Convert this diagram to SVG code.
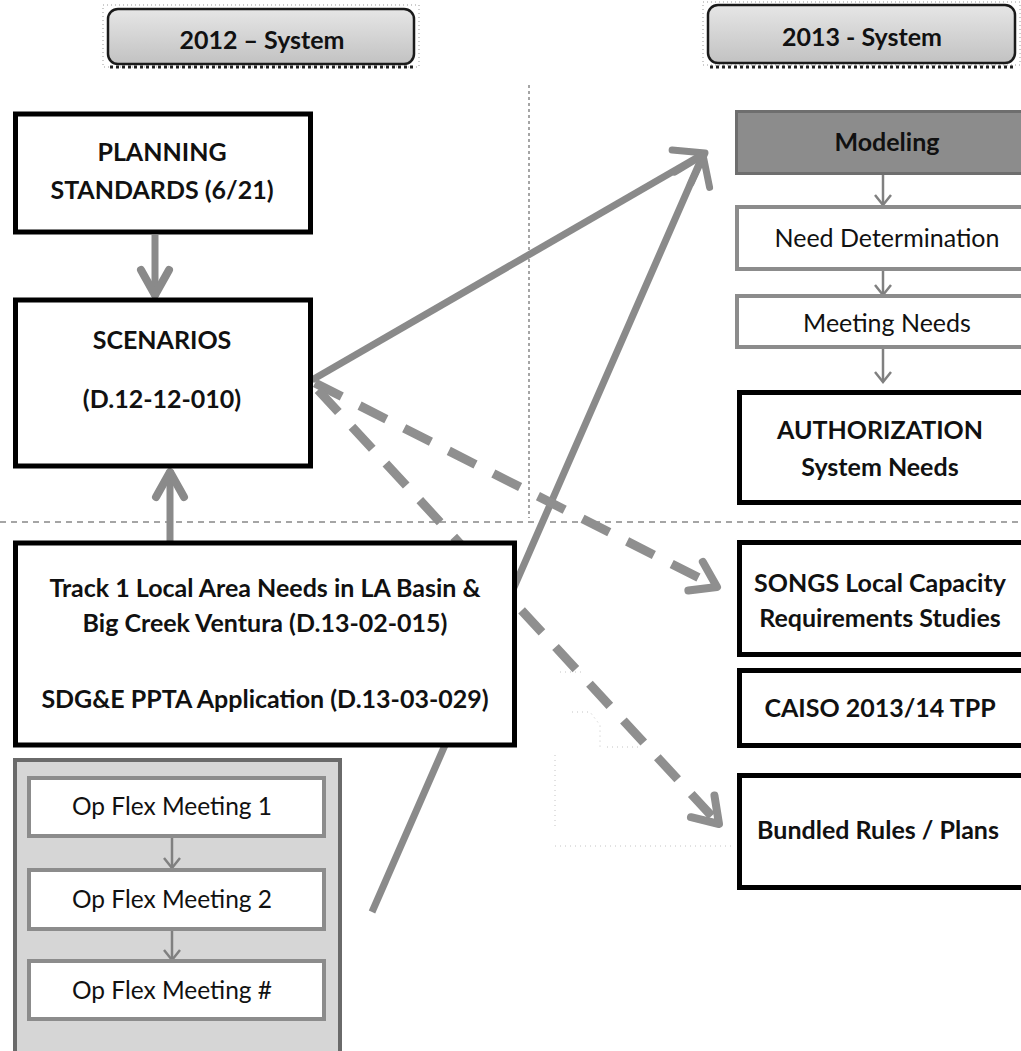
<svg xmlns="http://www.w3.org/2000/svg" width="1021" height="1051" viewBox="0 0 1021 1051">
<style>
text{font-family:Lato,"Open Sans","Liberation Sans",sans-serif;fill:#111;text-anchor:middle}
.b{font-weight:bold;font-size:25px}
.r{font-size:25px}
.o{font-size:24.5px}
.box{fill:#fff;stroke:#000;stroke-width:5}
.gbox{fill:#fff;stroke:#8c8c8c;stroke-width:4}
.hdr{fill:url(#hg);stroke:#1a1a1a;stroke-width:2.5}
.sol{stroke:#8a8a8a;stroke-width:7;fill:none}
.dash{stroke:#8f8f8f;stroke-width:9;fill:none;stroke-dasharray:30 20}
.thin{stroke:#808080;stroke-width:2.5;fill:none}
.sep{stroke:#888;stroke-width:1.5;fill:none}
.faint{stroke:#c4c4c4;stroke-width:1;fill:none;stroke-dasharray:1 4}
</style>
<defs>
<linearGradient id="hg" x1="0" y1="0" x2="0" y2="1">
<stop offset="0" stop-color="#e6e6e6"/>
<stop offset="1" stop-color="#c2c2c2"/>
</linearGradient>
<marker id="big" markerUnits="userSpaceOnUse" viewBox="-34 -26 40 52" markerWidth="40" markerHeight="52" refX="0" refY="0" orient="auto">
<path d="M-27,-19 L0,0 L-27,19" stroke="#8a8a8a" stroke-width="7" fill="none" stroke-linecap="round" stroke-linejoin="round"/>
</marker>
<marker id="mid" markerUnits="userSpaceOnUse" viewBox="-34 -26 40 52" markerWidth="40" markerHeight="52" refX="0" refY="0" orient="auto">
<path d="M-24,-16 L0,0 L-24,16" stroke="#8f8f8f" stroke-width="8" fill="none" stroke-linecap="round" stroke-linejoin="round"/>
</marker>
<marker id="vert" markerUnits="userSpaceOnUse" viewBox="-34 -22 40 44" markerWidth="40" markerHeight="44" refX="0" refY="0" orient="auto">
<path d="M-27,-14 L-2,0 L-27,14" stroke="#8a8a8a" stroke-width="8" fill="none" stroke-linecap="round" stroke-linejoin="round"/>
</marker>
<marker id="small" markerUnits="userSpaceOnUse" viewBox="-12 -12 14 24" markerWidth="14" markerHeight="24" refX="0" refY="0" orient="auto">
<path d="M-10,-8 L0,0 L-10,8" stroke="#808080" stroke-width="2.5" fill="none"/>
</marker>
</defs>

<g id="separators">
<line class="sep" x1="529" y1="85" x2="529" y2="518" stroke-dasharray="3 3"/>
<line class="sep" x1="0" y1="522" x2="1021" y2="522" stroke-dasharray="6 5"/>
</g>

<g id="faint-marks">
<path class="faint" d="M560,672 H582 M572,712 H590 L600,725 V747 M607,747 H640"/>
<path class="faint" d="M555,755 V830 M555,846 H735"/>
</g>

<g id="connectors">
<line class="sol" x1="312" y1="380" x2="705" y2="153" marker-end="url(#big)"/>
<line class="sol" x1="372" y1="912" x2="703" y2="155" marker-end="url(#big)"/>
<line class="dash" x1="315" y1="383" x2="717" y2="587" marker-end="url(#mid)"/>
<line class="dash" x1="318" y1="390" x2="719" y2="824" marker-end="url(#mid)"/>
<line class="sol" stroke-width="9" x1="155" y1="235" x2="155" y2="297" marker-end="url(#vert)"/>
<line class="sol" stroke-width="9" x1="170" y1="541" x2="170" y2="470" marker-end="url(#vert)"/>
<line class="thin" x1="883" y1="175" x2="883" y2="205" marker-end="url(#small)"/>
<line class="thin" x1="883" y1="270" x2="883" y2="295" marker-end="url(#small)"/>
<line class="thin" x1="883" y1="348" x2="883" y2="382" marker-end="url(#small)"/>
</g>

<g id="hdr2012">
<rect x="103" y="5" width="316" height="62" fill="none" stroke="#999" stroke-width="1" stroke-dasharray="1 3"/>
<line x1="110" y1="67" x2="414" y2="67" stroke="#222" stroke-width="3" stroke-dasharray="3 3"/>
<rect class="hdr" x="108" y="9" width="306" height="55" rx="10"/>
<text class="b" x="262" y="49">2012 – System</text>
</g>
<g id="hdr2013">
<rect x="703" y="2" width="317" height="63" fill="none" stroke="#999" stroke-width="1" stroke-dasharray="1 3"/>
<line x1="710" y1="67" x2="1014" y2="67" stroke="#222" stroke-width="3" stroke-dasharray="3 3"/>
<rect class="hdr" x="708" y="5" width="307" height="58" rx="10"/>
<text class="b" x="862" y="46">2013 - System</text>
</g>

<g id="planning">
<rect class="box" x="15.5" y="114" width="295" height="118"/>
<text class="b" x="162" y="161">PLANNING</text>
<text class="b" x="162" y="199">STANDARDS (6/21)</text>
</g>
<g id="scenarios">
<rect class="box" x="15.5" y="300" width="295" height="166"/>
<text class="b" x="162" y="349">SCENARIOS</text>
<text class="b" x="162" y="408">(D.12-12-010)</text>
</g>
<g id="track1">
<rect class="box" x="15.5" y="543" width="499" height="202"/>
<text class="b" x="265" y="597">Track 1 Local Area Needs in LA Basin &amp;</text>
<text class="b" x="265" y="632">Big Creek Ventura (D.13-02-015)</text>
<text class="b" x="265" y="708">SDG&amp;E PPTA Application (D.13-03-029)</text>
</g>
<g id="opflex">
<rect x="15" y="760" width="325" height="300" fill="#d6d6d6" stroke="#6a6a6a" stroke-width="4"/>
<g id="opflex-connectors">
<line class="thin" x1="172" y1="838" x2="172" y2="868" marker-end="url(#small)"/>
<line class="thin" x1="172" y1="930" x2="172" y2="960" marker-end="url(#small)"/>
</g>
<g id="opflex1">
<rect class="gbox" x="29" y="778" width="295" height="58"/>
<text class="o" x="172" y="815">Op Flex Meeting 1</text>
</g>
<g id="opflex2">
<rect class="gbox" x="29" y="870" width="295" height="59"/>
<text class="o" x="172" y="908">Op Flex Meeting 2</text>
</g>
<g id="opflex3">
<rect class="gbox" x="29" y="961" width="295" height="58"/>
<text class="o" x="172" y="999">Op Flex Meeting #</text>
</g>
</g>

<g id="modeling">
<rect x="736.5" y="111.5" width="300" height="62" fill="#8c8c8c" stroke="#6e6e6e" stroke-width="3"/>
<text class="b" x="887" y="151">Modeling</text>
</g>
<g id="needdet">
<rect class="gbox" x="737" y="207" width="300" height="62"/>
<text class="r" x="887" y="247">Need Determination</text>
</g>
<g id="meetneeds">
<rect class="gbox" x="737" y="296" width="300" height="51"/>
<text class="r" x="887" y="332">Meeting Needs</text>
</g>
<g id="authorization">
<rect class="box" x="739.5" y="392.5" width="300" height="110"/>
<text class="b" x="880" y="439">AUTHORIZATION</text>
<text class="b" x="880" y="476">System Needs</text>
</g>
<g id="songs">
<rect class="box" x="739.5" y="542.5" width="300" height="112"/>
<text class="b" x="880" y="592">SONGS Local Capacity</text>
<text class="b" x="880" y="627">Requirements Studies</text>
</g>
<g id="caiso">
<rect class="box" x="739.5" y="670.5" width="300" height="75"/>
<text class="b" x="880" y="717">CAISO 2013/14 TPP</text>
</g>
<g id="bundled">
<rect class="box" x="739.5" y="775.5" width="300" height="112"/>
<text class="b" x="878" y="839">Bundled Rules / Plans</text>
</g>
</svg>
